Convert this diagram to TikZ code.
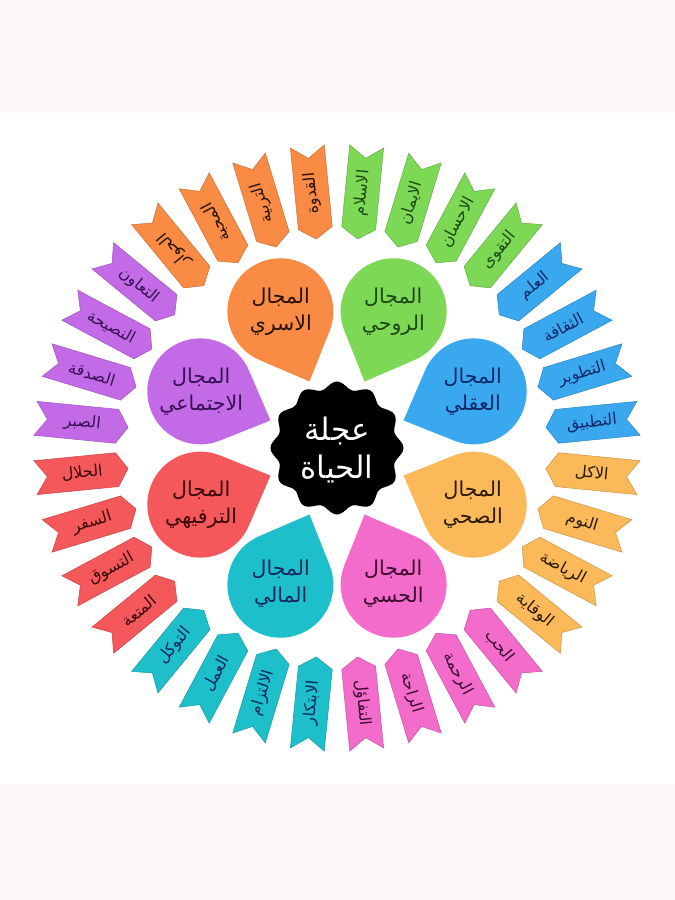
\documentclass[tikz,border=0pt]{standalone}
\usepackage{fontspec}
\newfontfamily\arabicfont[Script=Arabic]{DejaVu Sans}
\TeXXeTstate=1
\definecolor{bgGray}{RGB}{253,248,252}
\definecolor{cGreen}{RGB}{125,216,86}
\definecolor{cBlue}{RGB}{58,168,238}
\definecolor{cYellow}{RGB}{251,185,90}
\definecolor{cPink}{RGB}{243,107,203}
\definecolor{cTeal}{RGB}{29,191,203}
\definecolor{cRed}{RGB}{245,88,91}
\definecolor{cPurple}{RGB}{195,107,230}
\definecolor{cOrange}{RGB}{249,139,69}
\definecolor{tGreen}{RGB}{28,72,18}
\definecolor{tBlue}{RGB}{15,40,105}
\definecolor{tYellow}{RGB}{40,25,8}
\definecolor{tPink}{RGB}{60,10,45}
\definecolor{tTeal}{RGB}{15,40,90}
\definecolor{tRed}{RGB}{60,8,8}
\definecolor{tPurple}{RGB}{55,15,85}
\definecolor{tOrange}{RGB}{40,18,8}
\tikzset{
  ribbonshape/.style={fill=#1, draw=#1!80!black, line width=0.5pt},
  ribbontext/.style={font=\arabicfont\fontsize{16}{18}\selectfont, inner sep=0pt},
  petaltext/.style={font=\arabicfont\fontsize{20.5}{25}\selectfont, align=center, inner sep=0pt},
  hubtext/.style={font=\arabicfont\fontsize{31}{38}\selectfont, align=center, text=white, inner sep=0pt}
}
\begin{document}
\begin{tikzpicture}[x=1pt,y=1pt]
\useasboundingbox (-337,-452) rectangle (338,448);
\fill[white] (-337,-452) rectangle (338,448);
\fill[bgGray] (-337,448) rectangle (338,335);
\fill[bgGray] (-337,-452) rectangle (338,-336);
% ribbons
\foreach \th/\ph/\col/\tc/\txt [count=\i] in {
  84.375/84.375/cGreen/tGreen/الاسلام,
  73.125/73.125/cGreen/tGreen/الايمان,
  61.875/61.875/cGreen/tGreen/الاحسان,
  50.625/50.625/cGreen/tGreen/التقوى,
  39.375/39.375/cBlue/tBlue/العلم,
  28.125/28.125/cBlue/tBlue/الثقافة,
  16.875/16.875/cBlue/tBlue/التطوير,
  5.625/5.625/cBlue/tBlue/التطبيق,
  -5.625/-5.625/cYellow/tYellow/الاكل,
  -16.875/-16.875/cYellow/tYellow/النوم,
  -28.125/-28.125/cYellow/tYellow/الرياضة,
  -39.375/-39.375/cYellow/tYellow/الوقاية,
  -50.625/-50.625/cPink/tPink/الحب,
  -61.875/-61.875/cPink/tPink/الرحمة,
  -73.125/-73.125/cPink/tPink/الراحة,
  -84.375/-84.375/cPink/tPink/التفاؤل,
  -95.625/84.375/cTeal/tTeal/الابتكار,
  -106.875/73.125/cTeal/tTeal/الالتزام,
  -118.125/61.875/cTeal/tTeal/العمل,
  -129.375/50.625/cTeal/tTeal/التوكل,
  -140.625/39.375/cRed/tRed/المتعة,
  -151.875/28.125/cRed/tRed/التسوق,
  -163.125/16.875/cRed/tRed/السفر,
  -174.375/5.625/cRed/tRed/الحلال,
  174.375/-5.625/cPurple/tPurple/الصبر,
  163.125/-16.875/cPurple/tPurple/الصدقة,
  151.875/-28.125/cPurple/tPurple/النصيحة,
  140.625/-39.375/cPurple/tPurple/التعاون,
  129.375/129.375/cOrange/tOrange/الحوار,
  118.125/118.125/cOrange/tOrange/المحبة,
  106.875/106.875/cOrange/tOrange/التربية,
  95.625/95.625/cOrange/tOrange/القدوة}{
  \begin{scope}[rotate=\th]
    \filldraw[ribbonshape=\col] (210,0) -- (221,17) -- (303,17) -- (291,0) -- (303,-17) -- (221,-17) -- cycle;
  \end{scope}
  \node[ribbontext, text=\tc, rotate=\ph] (rib\i) at (\th:256) {\beginR\txt\endR};
}
% petals
\foreach \a/\col/\tc/\la/\lb [count=\i] in {
  67.5/cGreen/tGreen/المجال/الروحي,
  22.5/cBlue/tBlue/المجال/العقلي,
  -22.5/cYellow/tYellow/المجال/الصحي,
  -67.5/cPink/tPink/المجال/الحسي,
  -112.5/cTeal/tTeal/المجال/المالي,
  -157.5/cRed/tRed/المجال/الترفيهي,
  157.5/cPurple/tPurple/المجال/الاجتماعي,
  112.5/cOrange/tOrange/المجال/الاسري}{
  \begin{scope}[rotate=\a]
    \fill[\col] (148,0) ++(225.8:53) arc[start angle=225.8, end angle=494.2, radius=53] -- (72,0) -- cycle;
  \end{scope}
  \node[petaltext, text=\tc] (pet\i) at (\a:147) {\beginR\la\endR\\[2pt]\beginR\lb\endR};
}
% hub
\fill[black] plot[variable=\t, domain=0:357.5, samples=144, smooth cycle] (\t:{63+3.5*cos(12*\t)});
\node[hubtext] (hub) at (0,-2) {\beginR عجلة\endR\\\beginR الحياة\endR};
\end{tikzpicture}
\end{document}
